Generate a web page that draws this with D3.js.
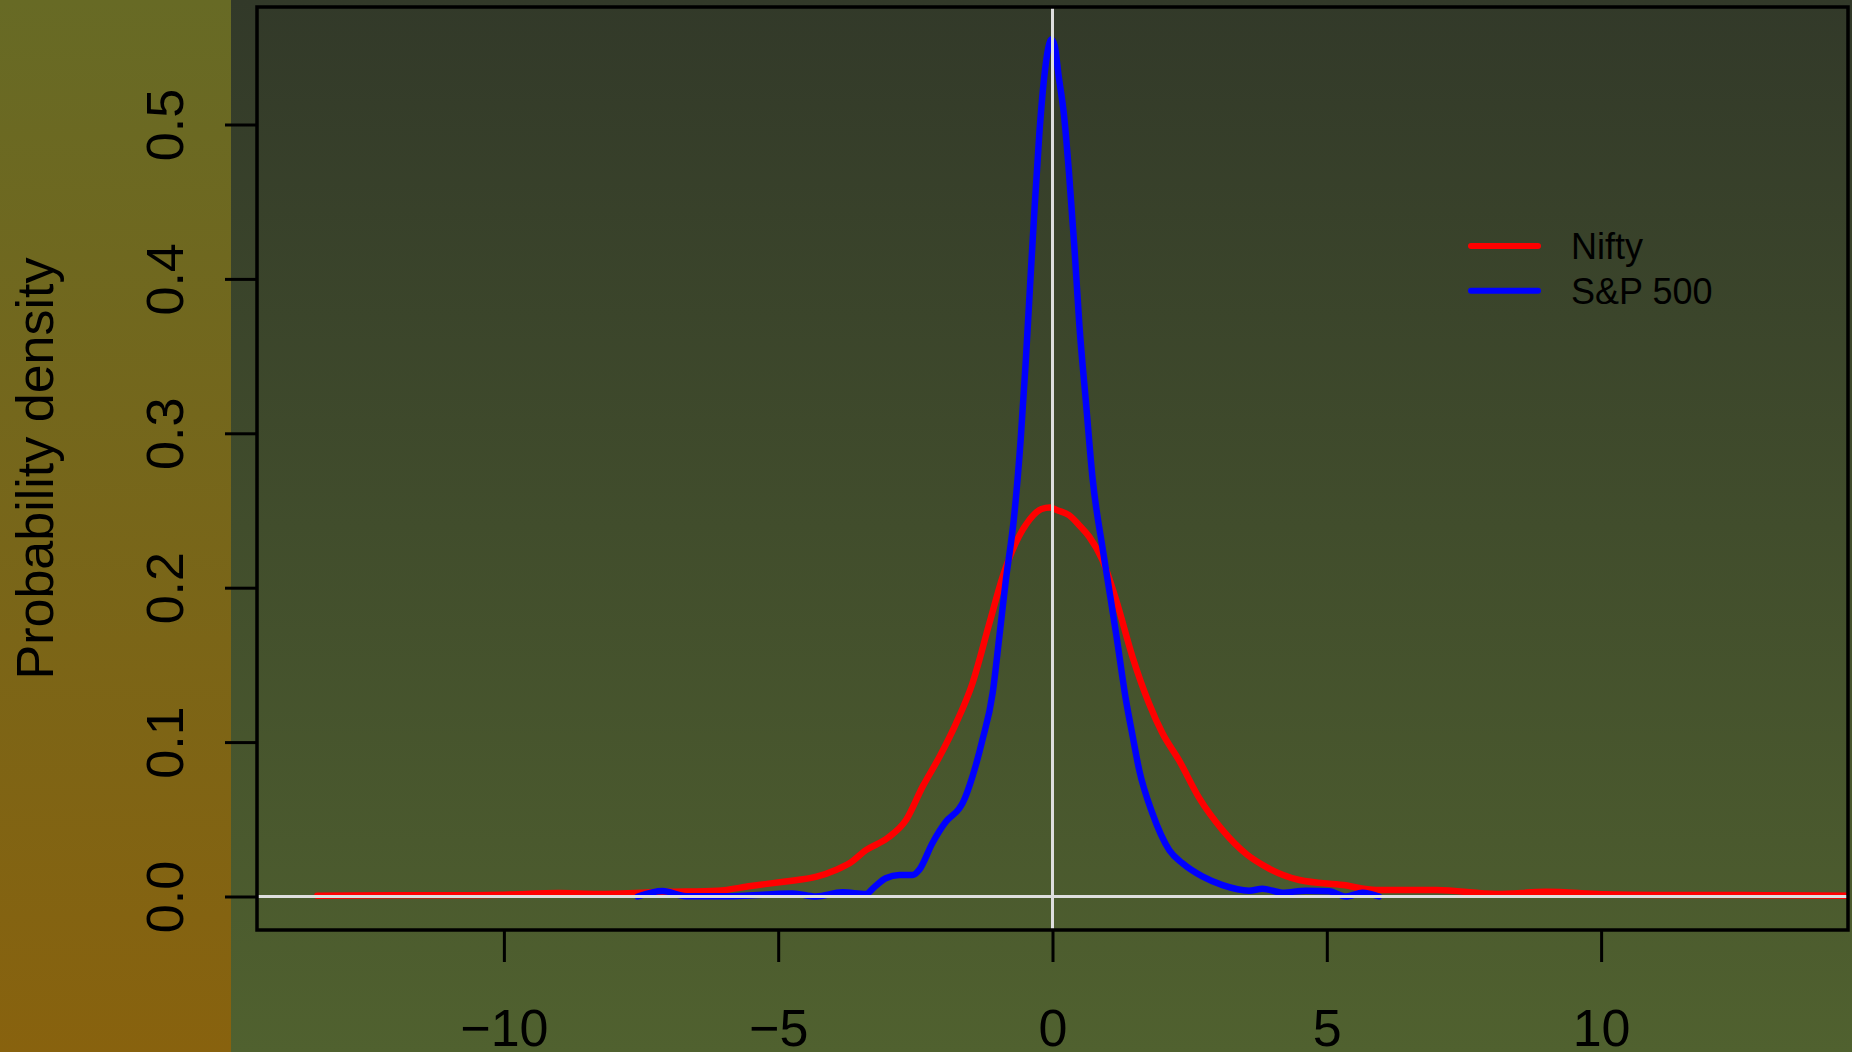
<!DOCTYPE html>
<html>
<head>
<meta charset="utf-8">
<script src="https://cdn.jsdelivr.net/npm/d3@7"></script>
<style>
  html, body { margin: 0; padding: 0; background: #333a29; }
  svg { display: block; font-family: "Liberation Sans", Arial, Helvetica, sans-serif; }
</style>
</head>
<body>
<div id="chart"></div>
<script>
// Data
const seriesNames = ["Nifty", "S&P 500"];
const seriesColors = ["#ff0000", "#0000ff"];

const niftyX = [-13.4, -12, -11, -10, -9, -8.3, -7, -6.1, -5.5, -4.9, -4.3, -3.95, -3.7, -3.4, -3.0, -2.67, -2.37, -2.06, -1.76, -1.46, -1.15, -0.91, -0.67, -0.42, -0.2, -0.05, 0.1, 0.3, 0.5, 0.67, 0.91, 1.16, 1.46, 1.76, 2.0, 2.31, 2.67, 3.1, 3.55, 3.9, 4.5, 5.3, 5.9, 7.0, 8.1, 9.0, 10, 11, 12, 13, 14.5];
const niftyY = [0.0005, 0.0008, 0.0008, 0.0012, 0.0022, 0.0016, 0.003, 0.0038, 0.0068, 0.0096, 0.0128, 0.0172, 0.0215, 0.030, 0.038, 0.0495, 0.071, 0.0905, 0.112, 0.138, 0.177, 0.207, 0.229, 0.244, 0.251, 0.252, 0.250, 0.247, 0.240, 0.233, 0.218, 0.192, 0.155, 0.125, 0.106, 0.088, 0.064, 0.043, 0.027, 0.019, 0.0107, 0.0074, 0.0042, 0.0042, 0.0016, 0.003, 0.0015, 0.001, 0.001, 0.0008, 0.0005];

const spX = [-7.56, -7.11, -6.68, -5.83, -4.74, -4.31, -3.83, -3.4, -3.25, -3.04, -2.79, -2.55, -2.43, -2.19, -1.94, -1.7, -1.64, -1.46, -1.28, -1.09, -0.97, -0.85, -0.7, -0.58, -0.49, -0.41, -0.33, -0.24, -0.15, -0.08, -0.02, 0.04, 0.11, 0.21, 0.3, 0.4, 0.49, 0.61, 0.73, 0.92, 1.05, 1.16, 1.34, 1.46, 1.58, 1.82, 2.13, 2.37, 2.73, 3.1, 3.58, 3.83, 4.19, 4.62, 5.04, 5.35, 5.65, 5.95];
const spY = [0.0, 0.0035, 0.0002, 0.0002, 0.002, 0.0, 0.0027, 0.0016, 0.006, 0.0118, 0.0139, 0.0139, 0.0172, 0.0345, 0.0485, 0.057, 0.0604, 0.0776, 0.101, 0.132, 0.168, 0.205, 0.246, 0.296, 0.345, 0.395, 0.444, 0.494, 0.531, 0.549, 0.555, 0.551, 0.532, 0.506, 0.469, 0.42, 0.37, 0.32, 0.271, 0.224, 0.195, 0.17, 0.127, 0.104, 0.082, 0.054, 0.03, 0.0215, 0.013, 0.0074, 0.0038, 0.005, 0.0025, 0.0038, 0.0034, 0.0, 0.0025, 0.0];

const xTicks = [-10, -5, 0, 5, 10];
const yTicks = [0.0, 0.1, 0.2, 0.3, 0.4, 0.5];
const yTitle = "Probability density";

// Set up
const width = 1852;
const height = 1052;
const box = { left: 257, right: 1848, top: 7, bottom: 930 };
const stripWidth = 231;
const font = 52;

const x = d3.scaleLinear().domain([-14.5, 14.5]).range([box.left, box.right]);
const y = d3.scaleLinear().domain([-0.0217, 0.5761]).range([box.bottom, box.top]);

const series = [
  { name: seriesNames[0], color: seriesColors[0], values: d3.zip(niftyX, niftyY) },
  { name: seriesNames[1], color: seriesColors[1], values: d3.zip(spX, spY) },
];

const svg = d3.select("#chart").append("svg").attr("width", width).attr("height", height);

// Backgrounds
const defs = svg.append("defs");
function vGradient(id, top, bottom) {
  const g = defs.append("linearGradient").attr("id", id)
    .attr("x1", 0).attr("y1", 0).attr("x2", 0).attr("y2", 1);
  g.append("stop").attr("offset", "0%").attr("stop-color", top);
  g.append("stop").attr("offset", "100%").attr("stop-color", bottom);
}
vGradient("bg-main", "#323929", "#50612f");
vGradient("bg-strip", "#676a25", "#88620e");

svg.append("rect").attr("width", width).attr("height", height).attr("fill", "url(#bg-main)");
svg.append("rect").attr("width", stripWidth).attr("height", height).attr("fill", "url(#bg-strip)");

defs.append("clipPath").attr("id", "plot-clip")
  .append("rect")
  .attr("x", box.left).attr("y", box.top)
  .attr("width", box.right - box.left).attr("height", box.bottom - box.top);

// Density lines
const line = d3.line()
  .x((d) => x(d[0]))
  .y((d) => y(d[1]))
  .curve(d3.curveMonotoneX);

svg.append("g")
  .attr("clip-path", "url(#plot-clip)")
  .selectAll("path")
  .data(series)
  .join("path")
  .attr("fill", "none")
  .attr("stroke", (d) => d.color)
  .attr("stroke-width", 6.5)
  .attr("stroke-linecap", "round")
  .attr("stroke-linejoin", "round")
  .attr("d", (d) => line(d.values));

// Reference lines at 0
const refs = svg.append("g").attr("clip-path", "url(#plot-clip)")
  .attr("stroke", "#dedede").attr("stroke-width", 3);
refs.append("line")
  .attr("x1", box.left).attr("x2", box.right)
  .attr("y1", y(0)).attr("y2", y(0));
refs.append("line")
  .attr("x1", x(0)).attr("x2", x(0))
  .attr("y1", box.top).attr("y2", box.bottom);

// Axes
const gX = svg.append("g")
  .attr("transform", `translate(0,${box.bottom})`)
  .call(d3.axisBottom(x).tickValues(xTicks).tickSize(32).tickFormat(d3.format("d")));
gX.select(".domain").remove();
gX.selectAll(".tick line").attr("stroke", "#000").attr("stroke-width", 3);
gX.selectAll(".tick text")
  .attr("y", 116).attr("dy", null)
  .attr("fill", "#000").attr("font-size", font)
  .attr("font-family", "'Liberation Sans', Arial, sans-serif");

const gY = svg.append("g")
  .attr("transform", `translate(${box.left},0)`)
  .call(d3.axisLeft(y).tickValues(yTicks).tickSize(32).tickFormat(d3.format(".1f")));
gY.select(".domain").remove();
gY.selectAll(".tick line").attr("stroke", "#000").attr("stroke-width", 3);
gY.selectAll(".tick text")
  .attr("x", null).attr("dy", null)
  .attr("text-anchor", "middle")
  .attr("transform", "translate(-74,0) rotate(-90)")
  .attr("fill", "#000").attr("font-size", font)
  .attr("font-family", "'Liberation Sans', Arial, sans-serif");

// Plot box
svg.append("rect")
  .attr("x", box.left).attr("y", box.top)
  .attr("width", box.right - box.left).attr("height", box.bottom - box.top)
  .attr("fill", "none").attr("stroke", "#000").attr("stroke-width", 3.5);

// Y title
svg.append("text")
  .attr("transform", `translate(53,${(box.top + box.bottom) / 2}) rotate(-90)`)
  .attr("text-anchor", "middle")
  .attr("font-size", font)
  .attr("fill", "#000")
  .text(yTitle);

// Legend
const legend = svg.append("g").attr("class", "legend");
const item = legend.selectAll("g")
  .data(series)
  .join("g")
  .attr("transform", (d, i) => `translate(0,${246 + i * 44.7})`);
item.append("line")
  .attr("x1", 1471).attr("x2", 1538)
  .attr("stroke", (d) => d.color)
  .attr("stroke-width", 6)
  .attr("stroke-linecap", "round");
item.append("text")
  .attr("x", 1571).attr("y", 13)
  .attr("font-size", 36)
  .attr("fill", "#000")
  .text((d) => d.name);
</script>
</body>
</html>
